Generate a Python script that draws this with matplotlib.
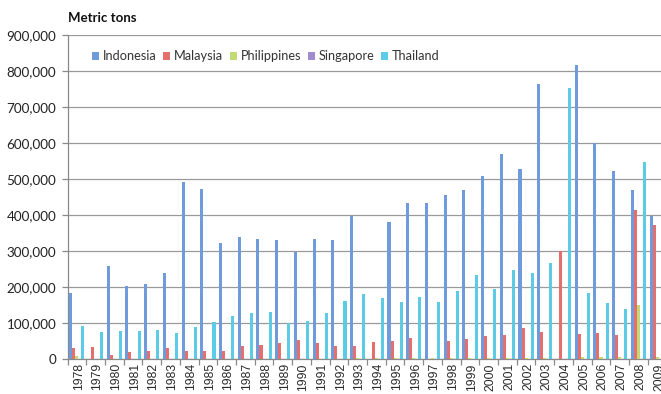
import matplotlib
matplotlib.use("Agg")
import matplotlib.pyplot as plt
import numpy as np
from matplotlib.ticker import FuncFormatter, FixedLocator

# Data (metric tons)
years = list(range(1978, 2010))
indonesia = [182000, 0, 259000, 203000, 207000, 238000, 492000, 473000, 321000, 340000,
             334000, 331000, 298000, 334000, 331000, 398000, 0, 381000, 434000, 434000,
             456000, 469000, 508000, 569000, 528000, 763000, 0, 817000, 601000, 523000,
             469000, 398000]
malaysia = [31000, 34000, 11000, 20000, 22000, 30000, 23000, 23000, 22000, 37000,
            39000, 44000, 53000, 45000, 36000, 36000, 46000, 50000, 59000, 0,
            51000, 55000, 65000, 67000, 85000, 74000, 300000, 69000, 73000, 67000,
            414000, 372000]
philippines = [8000, 0, 0, 0, 0, 0, 0, 0, 0, 0,
               0, 0, 0, 0, 0, 3000, 3000, 3000, 3000, 3000,
               3000, 3000, 3000, 3000, 3000, 3000, 0, 5000, 5000, 5000,
               150000, 5000]
singapore = [0] * 32
thailand = [92000, 76000, 79000, 79000, 81000, 73000, 90000, 104000, 119000, 127000,
            130000, 101000, 106000, 128000, 162000, 180000, 170000, 159000, 173000, 159000,
            190000, 233000, 194000, 247000, 240000, 266000, 754000, 182000, 155000, 138000,
            548000, 539000]

names = ['Indonesia', 'Malaysia', 'Philippines', 'Singapore', 'Thailand']
series = [indonesia, malaysia, philippines, singapore, thailand]
colors = ['#6f9bdc', '#e46f6c', '#c3da72', '#a08ad0', '#5ccbe6']

fig = plt.figure(figsize=(6.61, 3.94), dpi=100)
# plot area runs a bit past the right edge, like the cropped original
ax = fig.add_axes([67.5 / 661, 35 / 394, 599 / 661, 324 / 394])

x = np.arange(len(years))
w = 0.163
for k, (name, vals, c) in enumerate(zip(names, series, colors)):
    ax.bar(x + (k - 2) * w, vals, width=w, color=c, label=name, linewidth=0, zorder=3)

ax.set_xlim(-0.5, len(years) - 0.5)
ax.set_ylim(0, 900000)
ax.set_yticks(np.arange(0, 900001, 100000))
ax.yaxis.set_major_formatter(FuncFormatter(lambda v, p: f'{int(v):,}'))
ax.grid(axis='y', color='#9a9a9a', linewidth=0.9, zorder=0)

ax.set_xticks(x + 0.1)
ax.set_xticklabels([str(y) for y in years], rotation=90, fontsize=8.7,
                   family='Liberation Sans', color='#2a2a2a')
ax.xaxis.set_minor_locator(FixedLocator(np.arange(-0.5, len(years), 1)))
ax.tick_params(axis='x', which='major', length=0, pad=3)
ax.tick_params(axis='x', which='minor', length=4, color='#8a8a8a', width=0.9)
ax.tick_params(axis='y', length=4, color='#8a8a8a', width=0.9, labelsize=9.7,
               labelcolor='#222222', pad=4)
for lab in ax.get_yticklabels():
    lab.set_family('Lato')

for s in ['top', 'right']:
    ax.spines[s].set_visible(False)
for s in ['left', 'bottom']:
    ax.spines[s].set_color('#8a8a8a')
    ax.spines[s].set_linewidth(0.9)

fig.text(68 / 661, 1 - 18 / 394, 'Metric tons', fontsize=9.5, fontweight='bold',
         family='Lato', va='center', ha='left', color='#111111')

leg = ax.legend(loc='upper left', bbox_to_anchor=(0.033, 0.968), ncol=5, frameon=False,
                prop={'family': 'Lato', 'size': 9.2}, handlelength=0.55, handleheight=0.55,
                handletextpad=0.3, columnspacing=0.5, borderaxespad=0)
for t in leg.get_texts():
    t.set_color('#333333')

fig.savefig('out.png', dpi=100)
